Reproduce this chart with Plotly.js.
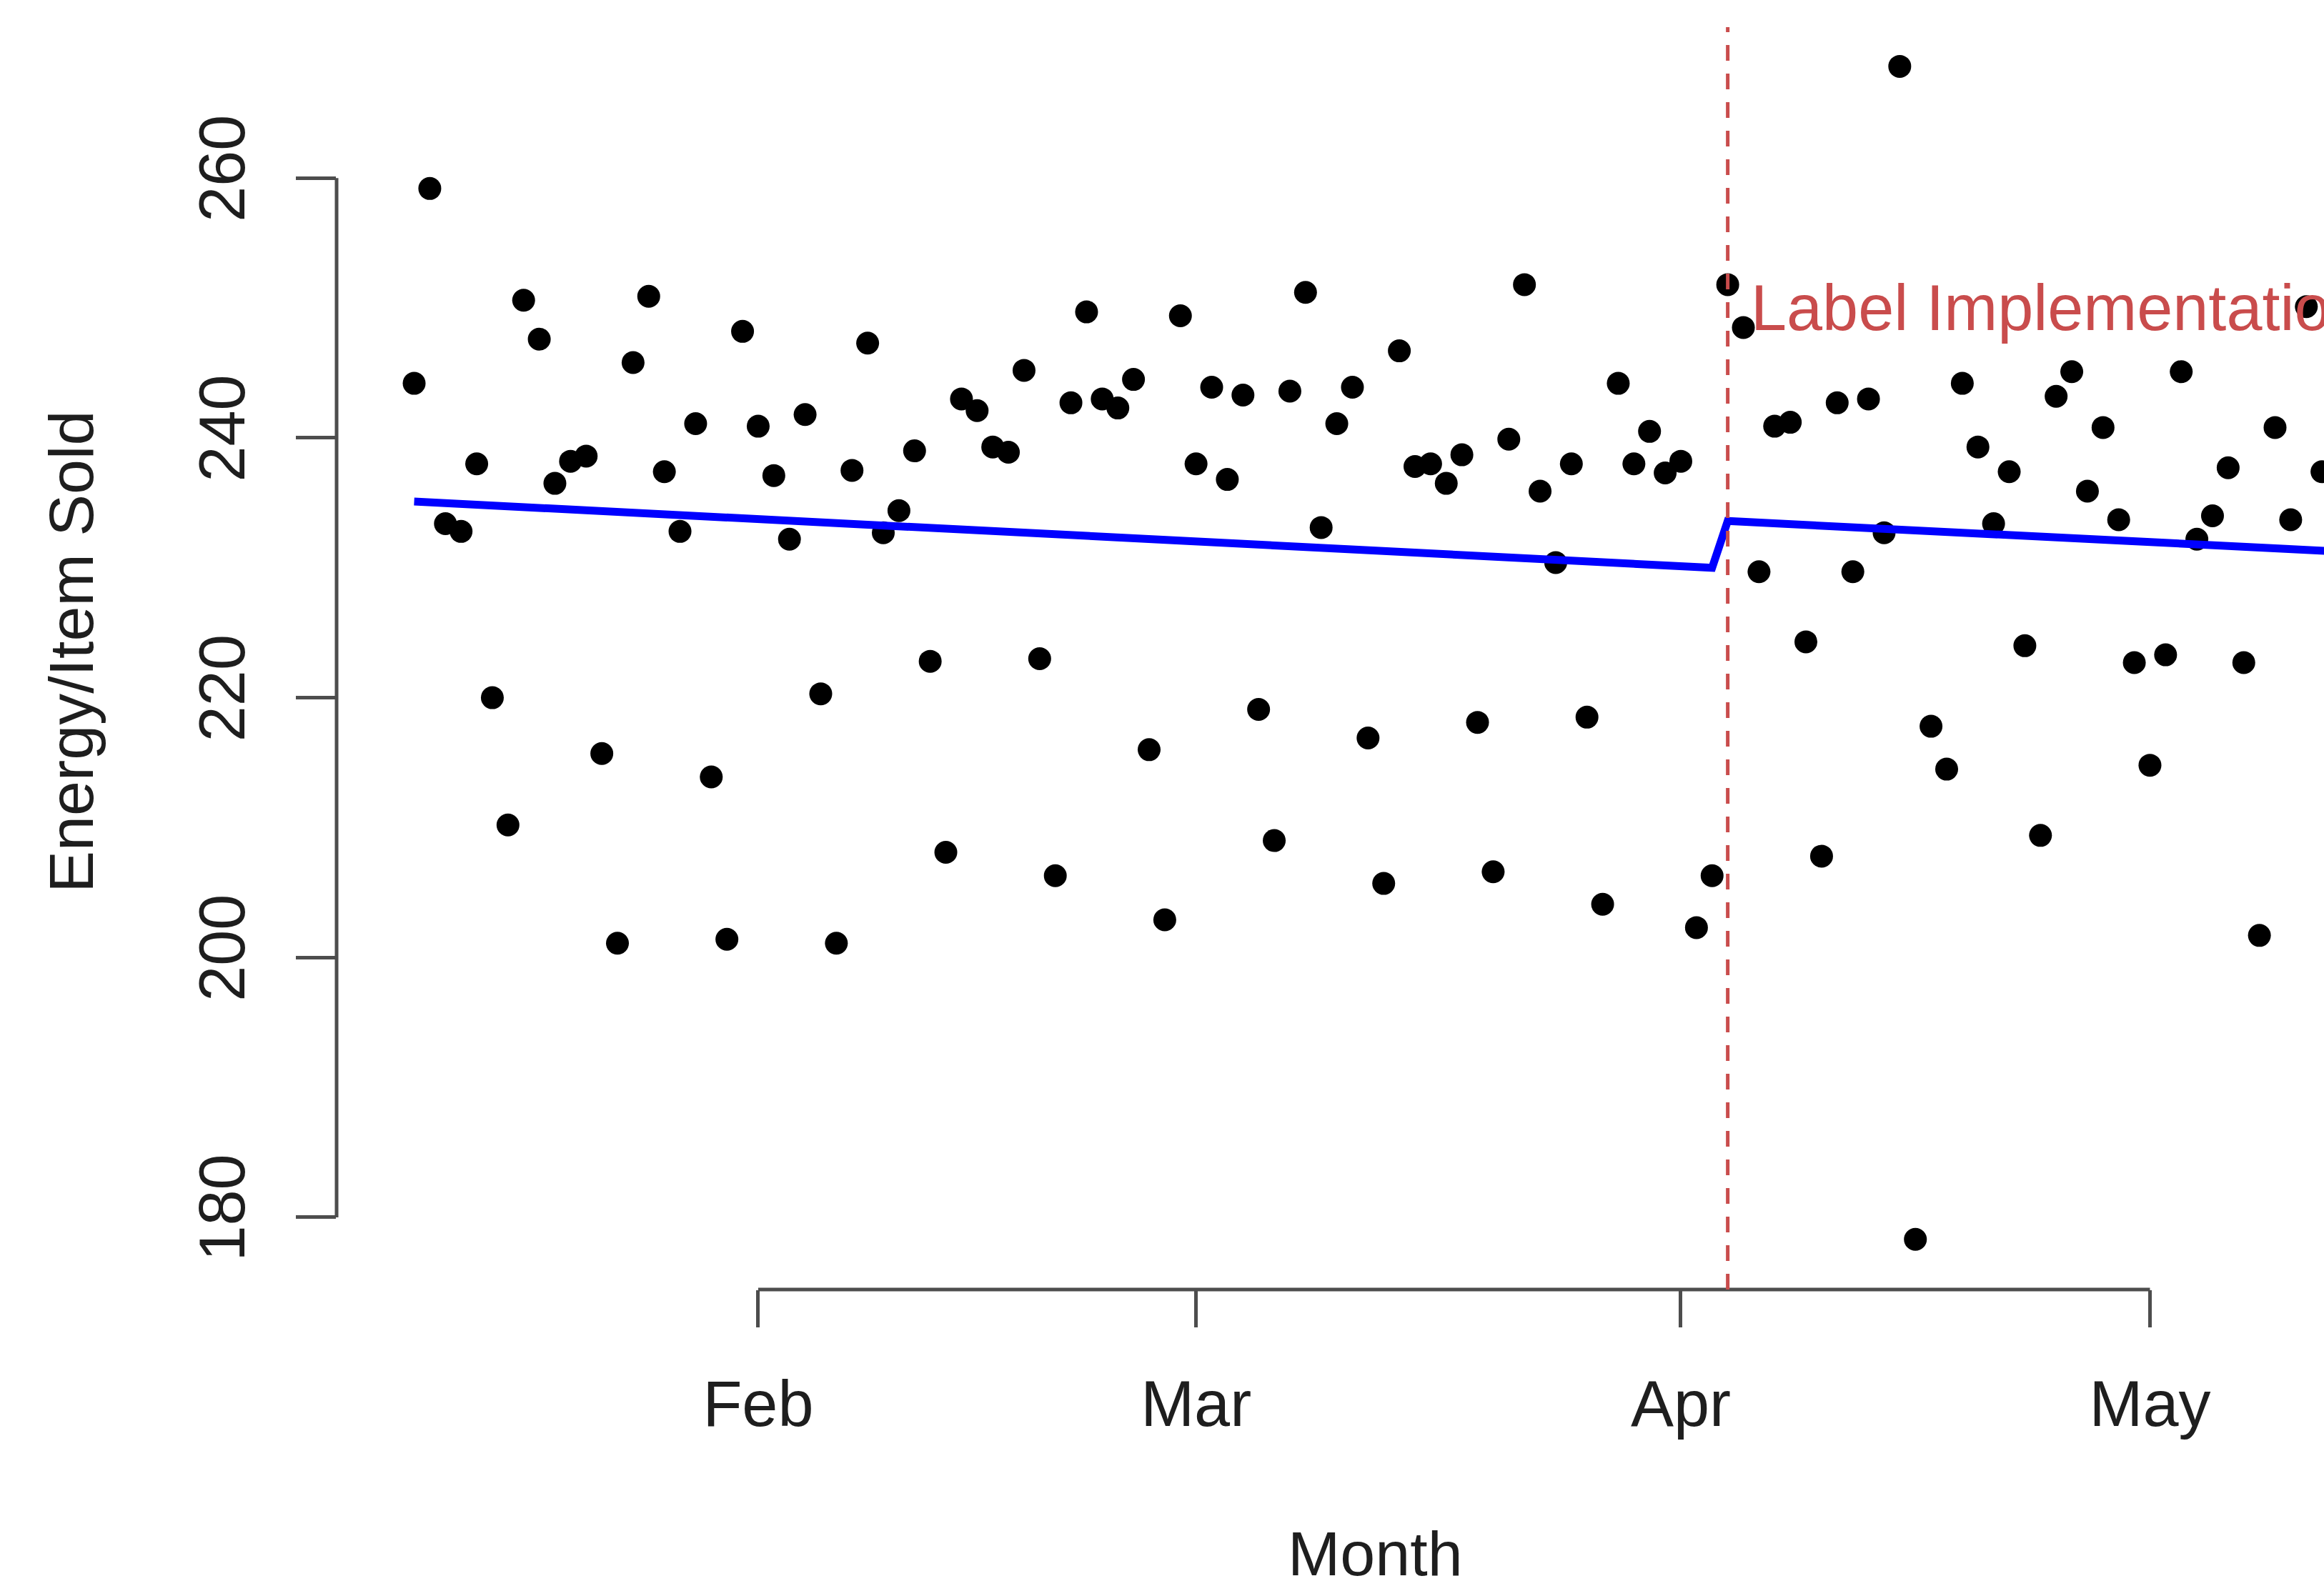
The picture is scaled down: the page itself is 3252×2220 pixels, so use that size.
<!DOCTYPE html>
<html>
<head>
<meta charset="utf-8">
<script src="https://cdn.plot.ly/plotly-3.0.1.min.js"></script>
<style>
  html, body { margin: 0; padding: 0; background: #ffffff; overflow: hidden; }
  #chart { width: 3252px; height: 2220px; }
</style>
</head>
<body>
<div id="chart"></div>
<script>
// ---- data ----
const year = 2015;
const janDays = [10,11,12,13,14,15,16,17,18,19,20,21,22,23,24,25,26,27,28,29,30,31];
const janVals = [244.2,259.2,233.4,232.8,238.0,220.0,210.2,250.6,247.6,236.5,238.2,238.6,215.7,201.1,245.8,250.9,237.4,232.8,241.1,213.9,201.4,248.2];
const febDays = [1,2,3,4,5,6,7,8,9,10,11,12,13,14,15,16,17,18,19,20,21,22,23,24,25,26,27,28];
const febVals = [240.9,237.1,232.2,241.8,220.3,201.1,237.5,247.3,232.7,234.4,239.0,222.8,208.1,243.0,242.1,239.3,238.9,245.2,223.0,206.3,242.7,249.7,243.0,242.3,244.5,216.0,202.9,249.4];
const marDays = [1,2,3,4,5,6,7,8,9,10,11,12,13,14,15,16,17,18,19,20,21,22,23,24,25,26,27,28,29,30,31];
const marVals = [238.0,243.9,236.8,243.3,219.1,209.0,243.6,251.2,233.1,241.1,243.9,216.9,205.7,246.7,237.8,238.0,236.5,238.7,218.1,206.6,239.9,251.8,235.9,230.4,238.0,218.5,204.1,244.2,238.0,240.5,237.3];
const aprDays = [1,2,3,4,5,6,7,8,9,10,11,12,13,14,15,16,17,18,19,20,21,22,23,24,25,26,27,28,29,30];
const aprVals = [238.2,202.3,206.3,251.8,248.5,229.7,240.9,241.2,224.3,207.8,242.7,229.7,243.0,232.7,268.6,178.3,217.8,214.5,244.2,239.3,233.4,237.4,224.0,209.4,243.2,245.1,235.9,240.8,233.7,222.7];
const mayDays = [1,2,3,4,5,6,7,8,9,10,11,12];
const mayVals = [214.8,223.3,245.1,232.2,234.0,237.7,222.7,201.7,240.8,233.7,250.1,237.4];

// fitted segmented-regression line (read at its ends and at the break)
const fitDates  = ['2015-01-10', '2015-04-03', '2015-04-04', '2015-05-14'];
const fitValues = [235.1, 230.0, 233.6, 231.2];

const interventionDate = '2015-04-04';
const interventionLabel = 'Label Implementation';
const labelY = 250;

const monthTickDates = ['2015-02-01', '2015-03-01', '2015-04-01', '2015-05-01'];
const monthTickText  = ['Feb', 'Mar', 'Apr', 'May'];
const yTicks = [180, 200, 220, 240, 260];

const xTitle = 'Month';
const yTitle = 'Energy/Item Sold';

// ---- build series ----
function pad(n) { return (n < 10 ? '0' : '') + n; }
const months = [[1, janDays, janVals], [2, febDays, febVals], [3, marDays, marVals], [4, aprDays, aprVals], [5, mayDays, mayVals]];
const dates = [], energy = [];
months.forEach(([m, days, vals]) => {
  days.forEach((d, i) => { dates.push(year + '-' + pad(m) + '-' + pad(d)); energy.push(vals[i]); });
});

const FONT = '"Liberation Sans", Arial, Helvetica, sans-serif';
const AXIS_COLOR = '#4d4d4d';
const TEXT_COLOR = '#1e1e1e';
const RED = '#c94c4c';

const traces = [
  {
    type: 'scatter', mode: 'markers', x: dates, y: energy,
    marker: { color: '#000000', size: 32, line: { width: 0 } },
    hoverinfo: 'skip', showlegend: false
  },
  {
    type: 'scatter', mode: 'lines', x: fitDates, y: fitValues,
    line: { color: '#0000ff', width: 11 },
    hoverinfo: 'skip', showlegend: false
  }
];

const layout = {
  width: 3252, height: 2220,
  margin: { l: 471, r: 0, t: 38, b: 415, pad: 0 },
  paper_bgcolor: '#ffffff', plot_bgcolor: '#ffffff',
  showlegend: false,
  font: { family: FONT, color: TEXT_COLOR, size: 90 },
  xaxis: {
    type: 'date',
    range: ['2015-01-05 00:58', '2015-05-12 03:07'],
    tickmode: 'array', tickvals: monthTickDates, ticktext: monthTickText,
    ticks: 'outside', ticklen: 52, tickwidth: 5, tickcolor: AXIS_COLOR,
    showgrid: false, zeroline: false, showline: false,
    tickfont: { family: FONT, size: 90, color: TEXT_COLOR },
    ticklabelstandoff: 30,
    automargin: false
  },
  yaxis: {
    range: [174.44, 271.62],
    tickmode: 'array', tickvals: yTicks,
    ticks: 'outside', ticklen: 56, tickwidth: 5, tickcolor: AXIS_COLOR,
    tickangle: -90,
    showgrid: false, zeroline: false, showline: false,
    tickfont: { family: FONT, size: 90, color: TEXT_COLOR },
    ticklabelstandoff: 36,
    automargin: false
  },
  shapes: [
    { type: 'line', xref: 'paper', yref: 'y', x0: 0, x1: 0, y0: yTicks[0], y1: yTicks[yTicks.length - 1],
      line: { color: AXIS_COLOR, width: 5 } },
    { type: 'line', xref: 'x', yref: 'paper', x0: monthTickDates[0], x1: monthTickDates[monthTickDates.length - 1], y0: 0, y1: 0,
      line: { color: AXIS_COLOR, width: 5 } },
    { type: 'line', xref: 'x', yref: 'paper', x0: interventionDate, x1: interventionDate, y0: 0, y1: 1,
      line: { color: RED, width: 5, dash: '22px,18px' } }
  ],
  annotations: [
    { xref: 'x', yref: 'y', x: interventionDate, y: labelY, text: interventionLabel,
      showarrow: false, xanchor: 'left', yanchor: 'middle', xshift: 30,
      font: { family: FONT, size: 90, color: RED } },
    { xref: 'paper', yref: 'paper', x: 0.5228, y: -0.209, text: xTitle,
      showarrow: false, xanchor: 'center', yanchor: 'middle',
      font: { family: FONT, size: 88, color: TEXT_COLOR } },
    { xref: 'paper', yref: 'paper', x: -0.1334, y: 0.505, text: yTitle, textangle: -90,
      showarrow: false, xanchor: 'center', yanchor: 'middle',
      font: { family: FONT, size: 88, color: TEXT_COLOR } }
  ]
};

Plotly.newPlot('chart', traces, layout, { staticPlot: true, displayModeBar: false, responsive: false });
</script>
</body>
</html>
